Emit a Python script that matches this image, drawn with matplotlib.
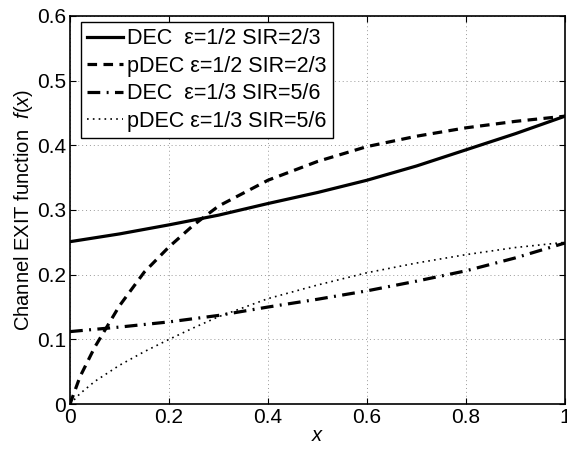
import numpy as np
import matplotlib
matplotlib.use("Agg")
import matplotlib.pyplot as plt

plt.rcParams['font.family'] = ['Liberation Sans', 'DejaVu Sans']
plt.rcParams['mathtext.fontset'] = 'custom'
plt.rcParams['mathtext.rm'] = 'Liberation Sans'
plt.rcParams['mathtext.it'] = 'Liberation Sans:italic'

# values
x_vals = [0, 0.1, 0.2, 0.3, 0.4, 0.5, 0.6, 0.7, 0.8, 0.9, 1.0]
x_fine = [0, 0.02, 0.05, 0.1, 0.15, 0.2, 0.25, 0.3, 0.4, 0.5, 0.6, 0.7, 0.8, 0.9, 1.0]

dec_half = [0.251, 0.263, 0.277, 0.292, 0.310, 0.327, 0.346, 0.368, 0.393, 0.418, 0.445]
pdec_half = [0.0, 0.042, 0.088, 0.152, 0.204, 0.243, 0.277, 0.306, 0.346, 0.375,
             0.398, 0.414, 0.427, 0.437, 0.445]
dec_third = [0.112, 0.119, 0.127, 0.137, 0.150, 0.162, 0.175, 0.190, 0.206, 0.226, 0.249]
pdec_third = [0.0, 0.016, 0.035, 0.060, 0.081, 0.100, 0.118, 0.135, 0.163, 0.184,
              0.203, 0.218, 0.231, 0.242, 0.250]

labels = [
    "DEC  ε=1/2 SIR=2/3",
    "pDEC ε=1/2 SIR=2/3",
    "DEC  ε=1/3 SIR=5/6",
    "pDEC ε=1/3 SIR=5/6",
]

fig = plt.figure(figsize=(5.67, 4.54), dpi=100)
ax = fig.add_axes([0.1235, 0.110, 0.873, 0.855])

ax.plot(x_vals, dec_half, '-', color='k', lw=2.3, label=labels[0])
ax.plot(x_fine, pdec_half, '--', color='k', lw=2.3, dashes=(3, 2), label=labels[1])
ax.plot(x_vals, dec_third, '-.', color='k', lw=2.3, dashes=(4, 2, 0.6, 2), label=labels[2])
ax.plot(x_fine, pdec_third, ':', color='k', lw=1.2, dashes=(1, 2.5), label=labels[3])

ax.set_xlim(0, 1)
ax.set_ylim(0, 0.6)
ax.set_xticks([0, 0.2, 0.4, 0.6, 0.8, 1])
ax.set_xticklabels(["0", "0.2", "0.4", "0.6", "0.8", "1"])
ax.set_yticks([0, 0.1, 0.2, 0.3, 0.4, 0.5, 0.6])
ax.set_yticklabels(["0", "0.1", "0.2", "0.3", "0.4", "0.5", "0.6"])
ax.tick_params(direction='in', top=True, right=True, labelsize=15, length=4, pad=3)
ax.grid(True, linestyle=(0, (1, 3)), color='#999999', lw=0.7)
for s in ax.spines.values():
    s.set_linewidth(1.2)

ax.set_xlabel("$x$", fontsize=14.5, labelpad=-1)
ax.set_ylabel("Channel EXIT function  $f(x)$", fontsize=14.5, labelpad=1)

leg = ax.legend(loc='upper left', bbox_to_anchor=(0.022, 0.985), fontsize=15.5,
                fancybox=False, framealpha=1, edgecolor='k', handlelength=1.65,
                handletextpad=0.2, borderpad=0.3, labelspacing=0.3, borderaxespad=0)
leg.get_frame().set_linewidth(1.0)

fig.savefig("out.png", dpi=100)
